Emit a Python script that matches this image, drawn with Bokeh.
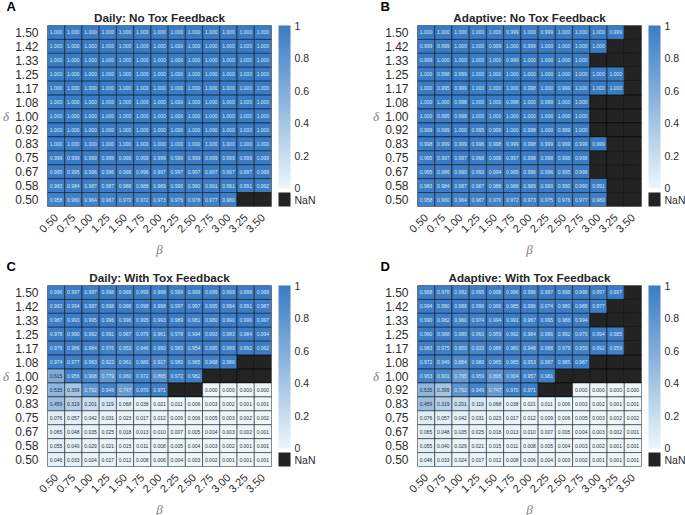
import numpy as np
from math import pi
from bokeh.plotting import figure
from bokeh.models import (ColumnDataSource, LinearColorMapper, ColorBar, FixedTicker,
                          Title, FactorRange, AllLabels)
from bokeh.layouts import row, column
from bokeh.embed import file_html
from bokeh.resources import INLINE
from bokeh.core.properties import value

N = float("nan")

beta_ticks = ["0.50", "0.75", "1.00", "1.25", "1.50", "1.75", "2.00",
              "2.25", "2.50", "2.75", "3.00", "3.25", "3.50"]
# rows listed from top (delta = 1.50) to bottom (delta = 0.50)
delta_ticks = ["1.50", "1.42", "1.33", "1.25", "1.17", "1.08", "1.00",
               "0.92", "0.83", "0.75", "0.67", "0.58", "0.50"]
cbar_ticks = [0, 0.2, 0.4, 0.6, 0.8, 1]

daily_no_tox = [
    [1.000, 1.000, 1.000, 1.000, 1.000, 1.000, 1.000, 1.000, 1.000, 1.000, 1.000, 1.000, 1.000],
    [1.000, 1.000, 1.000, 1.000, 1.000, 1.000, 1.000, 1.000, 1.000, 1.000, 1.000, 1.000, 1.000],
    [1.000, 1.000, 1.000, 1.000, 1.000, 1.000, 1.000, 1.000, 1.000, 1.000, 1.000, 1.000, 1.000],
    [1.000, 1.000, 1.000, 1.000, 1.000, 1.000, 1.000, 1.000, 1.000, 1.000, 1.000, 1.000, 1.000],
    [1.000, 1.000, 1.000, 1.000, 1.000, 1.000, 1.000, 1.000, 1.000, 1.000, 1.000, 1.000, 1.000],
    [1.000, 1.000, 1.000, 1.000, 1.000, 1.000, 1.000, 1.000, 1.000, 1.000, 1.000, 1.000, 1.000],
    [1.000, 1.000, 1.000, 1.000, 1.000, 1.000, 1.000, 1.000, 1.000, 1.000, 1.000, 1.000, 1.000],
    [1.000, 1.000, 1.000, 1.000, 1.000, 1.000, 1.000, 1.000, 1.000, 1.000, 1.000, 1.000, 1.000],
    [1.000, 1.000, 1.000, 1.000, 1.000, 1.000, 1.000, 1.000, 1.000, 1.000, 1.000, 1.000, 1.000],
    [0.999, 0.999, 0.999, 0.999, 0.999, 0.999, 0.999, 0.999, 0.999, 0.999, 0.999, 0.999, 0.999],
    [0.995, 0.995, 0.996, 0.996, 0.996, 0.996, 0.997, 0.997, 0.997, 0.997, 0.997, 0.997, 0.998],
    [0.983, 0.984, 0.987, 0.987, 0.988, 0.988, 0.989, 0.990, 0.990, 0.991, 0.991, 0.991, 0.992],
    [0.958, 0.960, 0.964, 0.967, 0.970, 0.972, 0.973, 0.975, 0.976, 0.977, 0.980, N, N],
]

adaptive_no_tox = [
    [1.000, 1.000, 1.000, 1.000, 1.000, 0.999, 1.000, 0.999, 1.000, 1.000, 1.000, 0.999, N],
    [0.999, 0.999, 1.000, 1.000, 0.999, 1.000, 0.999, 1.000, 1.000, 1.000, 1.000, N, N],
    [0.999, 1.000, 1.000, 1.000, 1.000, 0.999, 1.000, 1.000, 1.000, 1.000, N, N, N],
    [1.000, 0.998, 0.999, 1.000, 1.000, 1.000, 1.000, 1.000, 1.000, 1.000, 1.000, 1.000, N],
    [1.000, 0.995, 0.999, 1.000, 1.000, 1.000, 0.998, 1.000, 0.999, 1.000, 1.000, 1.000, N],
    [1.000, 1.000, 0.998, 1.000, 1.000, 0.998, 1.000, 0.999, 1.000, 1.000, N, N, N],
    [1.000, 0.995, 0.998, 1.000, 1.000, 1.000, 1.000, 1.000, 1.000, 1.000, N, N, N],
    [0.999, 0.999, 1.000, 0.995, 0.999, 1.000, 0.998, 1.000, 0.999, 1.000, N, N, N],
    [0.998, 0.999, 0.999, 0.996, 0.998, 0.999, 0.998, 0.999, 0.999, 0.999, 0.999, N, N],
    [0.995, 0.997, 0.997, 0.998, 0.998, 0.997, 0.998, 0.998, 0.998, 0.998, N, N, N],
    [0.995, 0.986, 0.990, 0.993, 0.994, 0.995, 0.996, 0.996, 0.995, 0.996, N, N, N],
    [0.983, 0.984, 0.987, 0.987, 0.988, 0.988, 0.989, 0.990, 0.990, 0.990, 0.991, N, N],
    [0.958, 0.960, 0.964, 0.967, 0.970, 0.972, 0.973, 0.975, 0.976, 0.977, 0.980, N, N],
]

daily_with_tox = [
    [0.996, 0.997, 0.997, 0.998, 0.999, 0.999, 0.999, 0.999, 0.999, 0.999, 0.999, 0.998, 0.998],
    [0.993, 0.994, 0.997, 0.998, 0.998, 0.998, 0.998, 0.997, 0.997, 0.995, 0.994, 0.991, 0.987],
    [0.987, 0.993, 0.995, 0.996, 0.996, 0.995, 0.993, 0.989, 0.981, 0.980, 0.990, 0.996, 0.997],
    [0.978, 0.990, 0.992, 0.991, 0.987, 0.979, 0.961, 0.978, 0.994, 0.993, 0.983, 0.984, 0.994],
    [0.978, 0.986, 0.984, 0.976, 0.953, 0.946, 0.990, 0.983, 0.954, 0.995, 0.989, 0.992, 0.992],
    [0.974, 0.977, 0.963, 0.923, 0.961, 0.980, 0.917, 0.980, 0.965, 0.968, 0.986, N, N],
    [0.615, 0.956, 0.908, 0.779, 0.960, 0.972, 0.865, 0.972, 0.982, N, N, N, N],
    [0.535, 0.399, 0.792, 0.949, 0.747, 0.970, 0.971, N, N, 0.000, 0.000, 0.000, 0.000],
    [0.459, 0.319, 0.201, 0.119, 0.068, 0.038, 0.021, 0.011, 0.006, 0.003, 0.002, 0.001, 0.001],
    [0.076, 0.057, 0.042, 0.031, 0.023, 0.017, 0.012, 0.009, 0.006, 0.005, 0.003, 0.002, 0.002],
    [0.065, 0.048, 0.035, 0.025, 0.018, 0.013, 0.010, 0.007, 0.005, 0.004, 0.003, 0.002, 0.001],
    [0.055, 0.040, 0.029, 0.021, 0.015, 0.011, 0.008, 0.005, 0.004, 0.003, 0.002, 0.001, 0.001],
    [0.046, 0.033, 0.024, 0.017, 0.012, 0.008, 0.006, 0.004, 0.003, 0.002, 0.001, 0.001, 0.001],
]

adaptive_with_tox = [
    [0.968, 0.978, 0.982, 0.995, 0.998, 0.996, 0.996, 0.997, 0.998, 0.998, 0.997, 0.997, N],
    [0.994, 0.990, 0.986, 0.996, 0.996, 0.985, 0.996, 0.974, 0.980, 0.988, 0.977, N, N],
    [0.990, 0.982, 0.960, 0.974, 0.994, 0.991, 0.967, 0.995, 0.988, 0.994, N, N, N],
    [0.990, 0.988, 0.980, 0.960, 0.959, 0.992, 0.984, 0.966, 0.992, 0.970, 0.994, 0.985, N],
    [0.983, 0.975, 0.950, 0.933, 0.988, 0.980, 0.948, 0.988, 0.979, 0.959, 0.992, 0.959, N],
    [0.972, 0.949, 0.884, 0.980, 0.965, 0.965, 0.953, 0.967, 0.985, 0.987, N, N, N],
    [0.953, 0.901, 0.765, 0.959, 0.806, 0.904, 0.957, 0.981, N, N, N, N, N],
    [0.535, 0.399, 0.792, 0.949, 0.747, 0.970, 0.971, N, N, 0.000, 0.000, 0.000, 0.000],
    [0.459, 0.319, 0.201, 0.119, 0.068, 0.038, 0.021, 0.011, 0.006, 0.003, 0.002, 0.001, 0.001],
    [0.076, 0.057, 0.042, 0.031, 0.023, 0.017, 0.012, 0.009, 0.006, 0.005, 0.003, 0.002, 0.002],
    [0.065, 0.048, 0.035, 0.025, 0.018, 0.013, 0.010, 0.007, 0.005, 0.004, 0.003, 0.002, 0.001],
    [0.055, 0.040, 0.029, 0.021, 0.015, 0.011, 0.008, 0.005, 0.004, 0.003, 0.002, 0.001, 0.001],
    [0.046, 0.033, 0.024, 0.017, 0.012, 0.008, 0.006, 0.004, 0.003, 0.002, 0.001, 0.001, 0.001],
]

# ---- style ----
LO = np.array([236, 246, 251])
HI = np.array([58, 124, 196])


def ramp(t):
    c = LO + (HI - LO) * t
    return "#%02x%02x%02x" % tuple(int(round(v)) for v in c)


PALETTE = [ramp(t) for t in np.linspace(0, 1, 256)]
NAN_COLOR = "#232323"
FONT = "Liberation Sans"
FW, FH = 224, 181

# colour-bar strip: gradient on [0, 1], a white gap, then the NaN swatch
CB_LOW, CB_GAP, CB_NAN_TICK = -0.112, -0.029, -0.07
cb_steps = np.linspace(CB_LOW, 1, 700)
CB_PALETTE = [NAN_COLOR if s < CB_GAP else ("#ffffff" if s < 0 else ramp(s)) for s in cb_steps]


def make_panel(mat, title, letter, left, right):
    xs, ys, vals, labels, tcols = [], [], [], [], []
    for r, d in enumerate(delta_ticks):
        for c, b in enumerate(beta_ticks):
            v = mat[r][c]
            xs.append(b)
            ys.append(d)
            vals.append(v)
            if np.isnan(v):
                labels.append("")
                tcols.append("#ffffff")
            else:
                labels.append("%.3f" % v)
                tcols.append("#dbe8f5" if v >= 0.7 else "#303030")
    src = ColumnDataSource(dict(beta=xs, delta=ys, val=vals, lab=labels, tcol=tcols))
    mapper = LinearColorMapper(palette=PALETTE, low=0, high=1, nan_color=NAN_COLOR)

    p = figure(x_range=FactorRange(*beta_ticks),
               y_range=FactorRange(*reversed(delta_ticks)),
               frame_width=FW, frame_height=FH,
               min_border_left=left, min_border_right=right,
               min_border_top=25, min_border_bottom=48,
               toolbar_location=None, tools="", output_backend="svg")
    p.rect(x="beta", y="delta", width=1, height=1, source=src,
           fill_color={"field": "val", "transform": mapper},
           line_color="black", line_alpha=0.55, line_width=0.9)
    p.text(x="beta", y="delta", text="lab", source=src, text_align="center",
           text_baseline="middle", text_font_size="5px", text_color="tcol",
           text_font=value(FONT))

    p.grid.grid_line_color = None
    p.outline_line_color = "#a0a0a0"
    p.axis.axis_line_color = None
    p.axis.major_tick_line_color = None
    p.axis.major_label_text_font = FONT
    p.axis.major_label_text_color = "#2b2b2b"
    p.axis.major_label_standoff = 3
    p.xaxis.major_label_orientation = pi / 4
    p.xaxis.major_label_text_font_size = "11px"
    p.yaxis.major_label_text_font_size = "12px"
    p.xaxis.axis_label = "β"
    p.yaxis.axis_label = "δ"
    p.axis.axis_label_text_font = "Liberation Serif"
    p.axis.axis_label_text_font_style = "italic"
    p.axis.axis_label_text_font_size = "13px"
    p.axis.axis_label_text_color = "#808080"
    p.axis.axis_label_standoff = 3
    p.yaxis.axis_label_orientation = "horizontal"

    cb_mapper = LinearColorMapper(palette=CB_PALETTE, low=CB_LOW, high=1)
    cb = ColorBar(color_mapper=cb_mapper,
                  ticker=FixedTicker(ticks=[CB_NAN_TICK] + cbar_ticks),
                  major_label_overrides={CB_NAN_TICK: "NaN", 0: "0", 1: "1"},
                  major_label_policy=AllLabels(),
                  width=12, height=FH, location=(7, 0),
                  padding=0, margin=0, label_standoff=4,
                  major_label_text_font_size="10.5px", major_label_text_font=FONT,
                  major_label_text_color="#2b2b2b",
                  bar_line_color=None, major_tick_line_color=None,
                  background_fill_color=None, border_line_color=None)
    p.add_layout(cb, "right")

    p.add_layout(Title(text=title, align="center", text_font_size="11.7px",
                       text_font_style="bold", text_font=FONT, text_color="#262626",
                       standoff=3), "above")
    p.add_layout(Title(text=letter, align="left", offset=-left, text_font_size="13px",
                       text_font_style="bold", text_font=FONT, text_color="#000000",
                       standoff=-13), "above")
    return p


pA = make_panel(daily_no_tox, "Daily: No Tox Feedback", "A", 41, 99)
pB = make_panel(adaptive_no_tox, "Adaptive: No Tox Feedback", "B", 37, 44)
pC = make_panel(daily_with_tox, "Daily: With Tox Feedback", "C", 41, 99)
pD = make_panel(adaptive_with_tox, "Adaptive: With Tox Feedback", "D", 37, 44)

layout = column(row(pA, pB), row(pC, pD))
open("out.html", "w").write(file_html(layout, INLINE))
